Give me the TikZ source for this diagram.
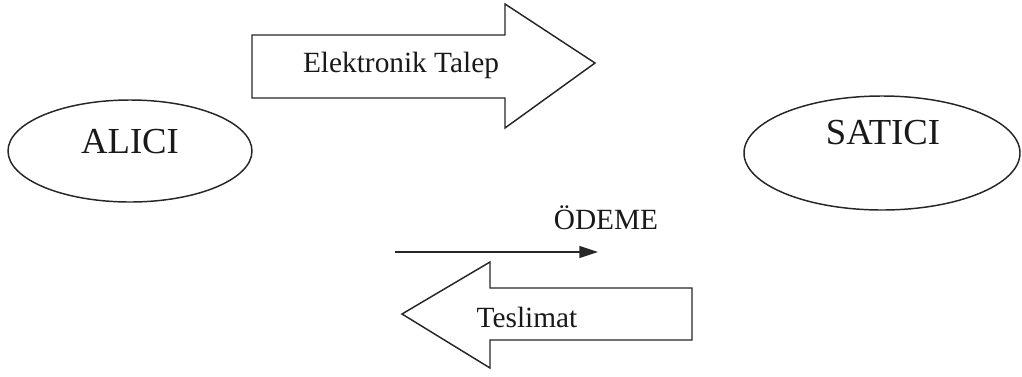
\documentclass[tikz,border=0pt]{standalone}
\usepackage{fontspec}
\setmainfont{Liberation Serif}
\usetikzlibrary{shapes.geometric,arrows.meta}
\tikzset{
  ln/.style={draw=black!85, line width=1.1pt, line join=miter},
  party/.style={ellipse, ln, inner sep=0pt},
  bigtxt/.style={font=\fontsize{27.5}{30}\selectfont, text=black!90, inner sep=0pt},
  lbl/.style={font=\fontsize{22}{26}\selectfont, text=black!90, inner sep=0pt},
}
\begin{document}
\begin{tikzpicture}[x=0.75pt,y=-0.75pt]
\useasboundingbox (0,0) rectangle (1022,376);
% parties
\node[party, minimum width=183pt, minimum height=76.5pt] (alici) at (130,151) {};
\node[bigtxt] (alicit) at (130,142) {ALICI};
\node[party, minimum width=207pt, minimum height=85.5pt] (satici) at (882,153) {};
\node[bigtxt] (satict) at (883,133) {SATICI};
% Elektronik Talep block arrow
\draw[ln] (252,35) -- (505,35) -- (505,4) -- (595,63) -- (505,128) -- (505,98) -- (252,98) -- cycle;
\node[lbl] (talep) at (401,65) {Elektronik Talep};
% ODEME arrow
\coordinate (os) at (395,252);
\coordinate (oe) at (598,252);
\draw[draw=black!85, line width=1.1pt, -{Triangle[length=14pt,width=9pt]}] (os) -- (oe);
\node[lbl] (odeme) at (606,218) {ÖDEME};
% Teslimat block arrow
\draw[ln] (692,288) -- (490,288) -- (490,262) -- (402,314) -- (490,368) -- (490,340) -- (692,340) -- cycle;
\node[lbl] (teslimat) at (527,317) {Teslimat};
\end{tikzpicture}
\end{document}
